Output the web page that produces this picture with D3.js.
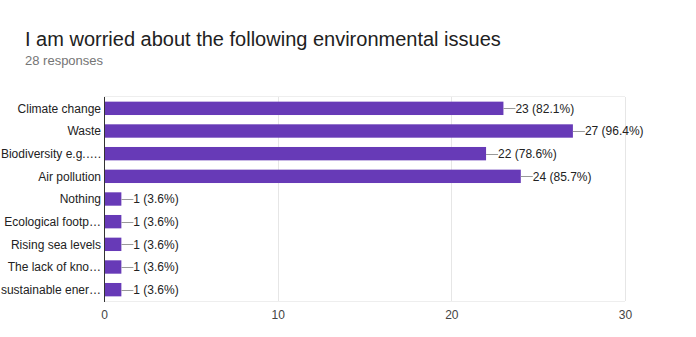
<!DOCTYPE html>
<html>
<head>
<meta charset="UTF-8" />
<title>Environmental issues</title>
<style>
  body { margin: 0; background: #fff; }
  svg { font-family: Arial, "Liberation Sans", sans-serif; display: block; }
  .title { font-size: 20px; fill: #212121; }
  .subtitle { font-size: 13px; fill: #757575; }
  .cat { font-size: 12px; fill: #222; }
  .val { font-size: 12px; fill: #222; }
</style>
<script src="https://d3js.org/d3.v7.min.js"></script>
</head>
<body>
<script>
var categories = ["Climate change", "Waste", "Biodiversity e.g.\u2026.", "Air pollution", "Nothing",
  "Ecological footp\u2026", "Rising sea levels", "The lack of kno\u2026", "sustainable ener\u2026"];
var counts = [23, 27, 22, 24, 1, 1, 1, 1, 1];
var percents = ["82.1%", "96.4%", "78.6%", "85.7%", "3.6%", "3.6%", "3.6%", "3.6%", "3.6%"];
var xTicks = [0, 10, 20, 30];

var width = 696, height = 337;
// plot box (avoid "top", it clashes with window.top)
var plotL = 104, plotR = 625, plotT = 97, plotB = 301;

var svg = d3.select("body").append("svg")
  .attr("width", width)
  .attr("height", height);

svg.append("text").attr("class", "title")
  .attr("x", 25).attr("y", 46)
  .text("I am worried about the following environmental issues");
svg.append("text").attr("class", "subtitle")
  .attr("x", 25).attr("y", 65)
  .text("28 responses");

var x = d3.scaleLinear().domain([0, 30]).range([plotL, plotR]);
var y = d3.scaleBand().domain(categories).range([plotT, plotB]).paddingInner(0.41).paddingOuter(0.205);

// gridlines + frame
svg.append("line").attr("x1", plotL).attr("x2", plotR).attr("y1", plotT - 0.5).attr("y2", plotT - 0.5)
  .attr("stroke", "#eeeeee");
svg.append("line").attr("x1", plotL).attr("x2", plotR).attr("y1", plotB + 0.5).attr("y2", plotB + 0.5)
  .attr("stroke", "#eeeeee");
svg.selectAll(".grid").data(xTicks.slice(1)).enter().append("line")
  .attr("class", "grid")
  .attr("x1", function(d) { return Math.round(x(d)) + 0.5; })
  .attr("x2", function(d) { return Math.round(x(d)) + 0.5; })
  .attr("y1", plotT).attr("y2", plotB)
  .attr("stroke", "#e6e6e6");

var xAxis = svg.append("g")
  .attr("transform", "translate(0," + plotB + ")")
  .call(d3.axisBottom(x).tickValues(xTicks).tickSize(0).tickPadding(9));
xAxis.select(".domain").remove();
xAxis.selectAll("text").style("font-size", "12px").style("fill", "#444")
  .style("font-family", "Arial, 'Liberation Sans', sans-serif");

// bars
svg.selectAll(".bar").data(counts).enter().append("rect")
  .attr("class", "bar")
  .attr("x", x(0))
  .attr("y", function(d, i) { return y(categories[i]); })
  .attr("width", function(d) { return x(d) - x(0); })
  .attr("height", y.bandwidth())
  .attr("fill", "#673ab7");

// leader lines and value labels
svg.selectAll(".lead").data(counts).enter().append("line")
  .attr("class", "lead")
  .attr("x1", function(d) { return x(d); })
  .attr("x2", function(d) { return x(d) + 12; })
  .attr("y1", function(d, i) { return Math.round(y(categories[i]) + y.bandwidth() / 2) + 0.5; })
  .attr("y2", function(d, i) { return Math.round(y(categories[i]) + y.bandwidth() / 2) + 0.5; })
  .attr("stroke", "#999");

svg.selectAll(".val").data(counts).enter().append("text")
  .attr("class", "val")
  .attr("x", function(d) { return x(d) + 12; })
  .attr("y", function(d, i) { return y(categories[i]) + y.bandwidth() / 2; })
  .attr("dy", "0.36em")
  .text(function(d, i) { return d + " (" + percents[i] + ")"; });

// category labels
svg.selectAll(".cat").data(categories).enter().append("text")
  .attr("class", "cat")
  .attr("x", plotL - 3)
  .attr("y", function(d) { return y(d) + y.bandwidth() / 2; })
  .attr("dy", "0.36em")
  .attr("text-anchor", "end")
  .text(function(d) { return d; });

// baseline
svg.append("line")
  .attr("x1", x(0) + 0.5).attr("x2", x(0) + 0.5)
  .attr("y1", plotT).attr("y2", plotB + 1)
  .attr("stroke", "#333");
</script>
</body>
</html>
